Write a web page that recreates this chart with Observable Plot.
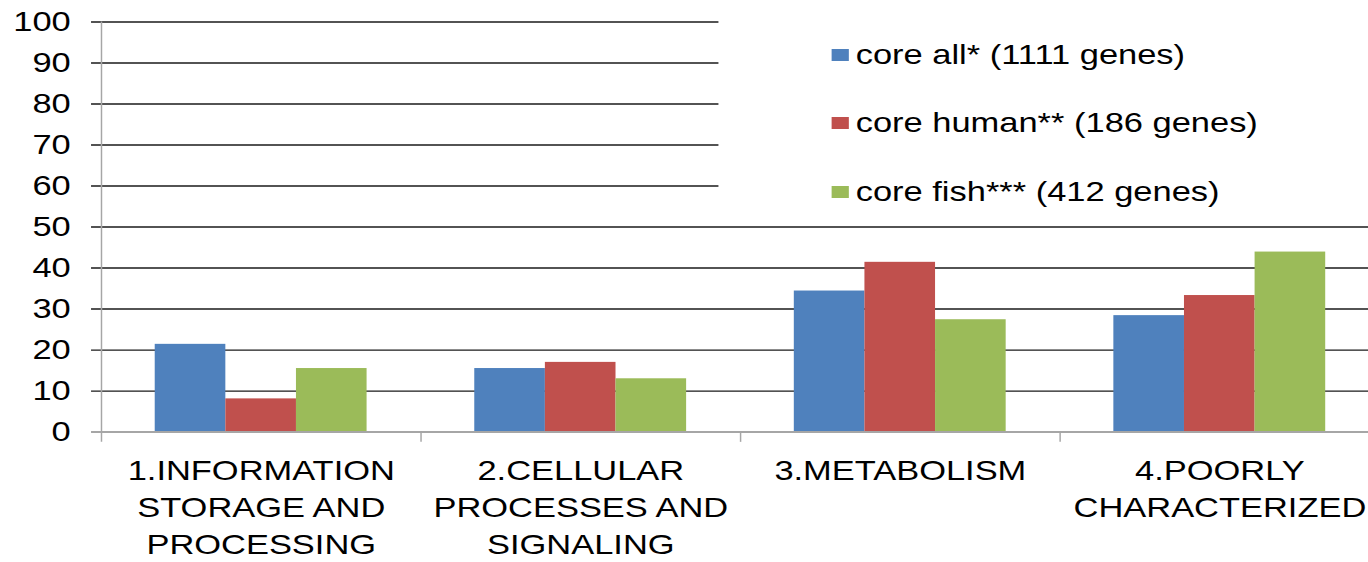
<!DOCTYPE html>
<html><head><meta charset="utf-8">
<script src="https://cdn.jsdelivr.net/npm/d3@7"></script>
<script src="https://cdn.jsdelivr.net/npm/@observablehq/plot@0.6"></script>
<style>
html,body{margin:0;padding:0;background:#fff;overflow:hidden;}
#wrap{position:relative;width:1112px;height:562px;overflow:hidden;transform:scaleX(1.2302);transform-origin:0 0;font-family:"Liberation Sans",Arial,sans-serif;}
#chart svg{max-width:none !important;}
#legend{position:absolute;left:583.6px;top:10px;width:540px;height:190px;background:#fff;}
.row{position:absolute;left:92px;height:32px;display:flex;align-items:center;font-size:28px;line-height:32px;color:#000;white-space:nowrap;}
.sw{width:14px;height:12px;margin-right:6px;flex:none;}
</style></head><body><div id="wrap"><div id="chart"></div><div id="legend"></div></div>
<script>
const categories = ["1.INFORMATION STORAGE AND PROCESSING","2.CELLULAR PROCESSES AND SIGNALING","3.METABOLISM","4.POORLY CHARACTERIZED"];
const categoryLabels = ["1.INFORMATION\nSTORAGE AND\nPROCESSING","2.CELLULAR\nPROCESSES AND\nSIGNALING","3.METABOLISM","4.POORLY\nCHARACTERIZED"];
const seriesNames = ["core all* (1111 genes)","core human** (186 genes)","core fish*** (412 genes)"];
const seriesColors = ["#4F81BD","#C0504D","#9BBB59"];
const coreAll = [21.4, 15.5, 34.4, 28.4];
const coreHuman = [8.1, 17.0, 41.4, 33.3];
const coreFish = [15.5, 13.0, 27.4, 43.9];
const yTicks = [0, 10, 20, 30, 40, 50, 60, 70, 80, 90, 100];

const W = 1121, ML = 82, MT = 21.5, H = 562, MB = 130.4;
const step = (W - ML) / categories.length;
const padInner = 0.337;
const bandwidth = step * (1 - padInner);
const third = bandwidth / 3;
const seriesValues = [coreAll, coreHuman, coreFish];

const barMarks = seriesValues.map((vals, i) =>
  Plot.barY(categories.map((c, j) => ({category: c, value: vals[j], series: seriesNames[i]})), {
    x: "category", y: "value", fill: seriesColors[i],
    insetLeft: i * third, insetRight: (2 - i) * third
  })
);

const chart = Plot.plot({
  width: W, height: H,
  marginLeft: ML, marginRight: 0, marginTop: MT, marginBottom: MB,
  style: {fontFamily: "'Liberation Sans', Arial, sans-serif", background: "white", overflow: "visible", color: "#000", maxWidth: "none"},
  x: {type: "band", domain: categories, paddingInner: padInner, paddingOuter: padInner / 2, round: false, axis: null},
  y: {domain: [0, 100]},
  marks: [
    Plot.ruleY(yTicks.filter(d => d > 0), {y: d => d, stroke: "#1a1a1a", strokeWidth: 1.4, insetLeft: -8}),
    ...barMarks,
    Plot.ruleY([0], {y: d => d, stroke: "#a6a6a6", strokeWidth: 2, insetLeft: -8}),
    Plot.ruleX([categories[0]], {x: d => d, y1: 100, y2: -2.5, dx: -step / 2, stroke: "#a6a6a6", strokeWidth: 1.2}),
    Plot.ruleX(categories.slice(1), {x: d => d, y1: 0, y2: -2.5, dx: -step / 2, stroke: "#a6a6a6", strokeWidth: 1.2}),
    Plot.axisY(yTicks, {tickSize: 0, tickPadding: 25, fontSize: 28, fill: "#000", label: null}),
    Plot.text(categories, {x: d => d, y: 0, text: (d, i) => categoryLabels[i], dy: 22, lineAnchor: "top", fontSize: 28, lineHeight: 1.32, fill: "#000"})
  ]
});
document.getElementById("chart").appendChild(chart);

const legend = document.getElementById("legend");
const rowTops = [28.6, 97.1, 165.6];
seriesNames.forEach((name, i) => {
  const row = document.createElement("div");
  row.className = "row";
  row.style.top = rowTops[i] + "px";
  const sw = document.createElement("span");
  sw.className = "sw";
  sw.style.background = seriesColors[i];
  const t = document.createElement("span");
  t.textContent = name;
  row.appendChild(sw);
  row.appendChild(t);
  legend.appendChild(row);
});
</script>
</body></html>
